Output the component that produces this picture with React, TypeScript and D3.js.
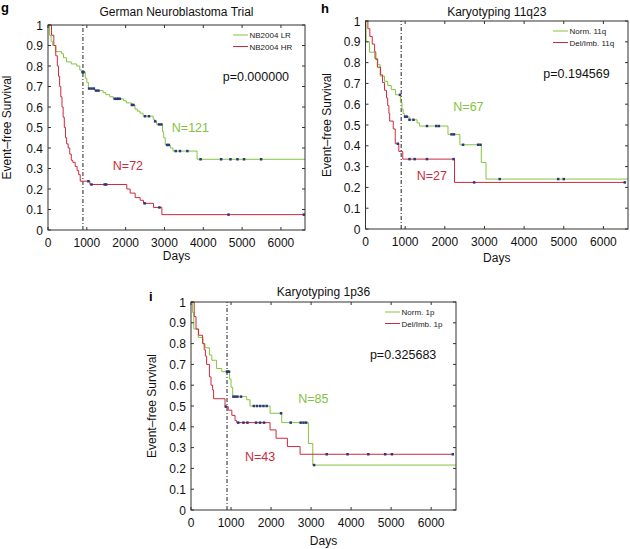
import React from 'react';
import * as d3 from 'd3';

// ---------- shared ----------
const MAX_DAY = 6620;
const X_TICKS = [0, 1000, 2000, 3000, 4000, 5000, 6000];
const Y_TICKS = [0, 0.1, 0.2, 0.3, 0.4, 0.5, 0.6, 0.7, 0.8, 0.9, 1];
const CUTOFF_DAY = 900;

const GREEN = '#85c341';
const RED = '#cc2a3e';
const CENSOR = '#2b3778';

// ---------- panel g: German Neuroblastoma Trial ----------
const gLrTimes = [0, 40, 80, 120, 200, 350, 400, 480, 600, 740, 820, 880, 960, 1000, 1040, 1200, 1420, 1490, 1590, 1680, 1940, 2020, 2150, 2240, 2300, 2370, 2450, 2710, 2750, 2800, 2950, 2980, 3020, 3150, 3220, 3840];
const gLrSurv = [1, 0.95, 0.92, 0.9, 0.87, 0.86, 0.84, 0.82, 0.81, 0.8, 0.78, 0.77, 0.74, 0.72, 0.69, 0.68, 0.67, 0.66, 0.65, 0.64, 0.63, 0.62, 0.61, 0.59, 0.58, 0.57, 0.555, 0.54, 0.53, 0.515, 0.48, 0.45, 0.415, 0.4, 0.385, 0.345];
const gLrCensor = [890, 915, 1060, 1120, 1180, 1240, 1300, 1720, 1770, 1810, 1850, 2160, 2200, 2500, 2600, 2760, 2860, 2920, 3070, 3110, 3290, 3400, 3590, 3930, 4460, 4700, 4880, 5050, 5490];
const gLrEnd = 6620;

const gHrTimes = [0, 90, 150, 200, 240, 270, 300, 330, 360, 390, 420, 450, 480, 520, 560, 600, 640, 700, 750, 790, 830, 1080, 2030, 2116, 2245, 2374, 2460, 2718, 2933];
const gHrSurv = [1, 0.95, 0.9, 0.85, 0.8, 0.75, 0.7, 0.65, 0.6, 0.55, 0.5, 0.45, 0.42, 0.4, 0.37, 0.34, 0.33, 0.31, 0.29, 0.27, 0.238, 0.222, 0.2, 0.18, 0.158, 0.145, 0.13, 0.11, 0.075];
const gHrCensor = [1040, 1120, 1460, 1500, 2490, 2870, 4650, 6590];
const gHrEnd = 6590;

// ---------- panel h: Karyotyping 11q23 ----------
const hNormTimes = [0, 15, 100, 230, 310, 370, 480, 560, 650, 760, 880, 920, 950, 980, 1100, 1300, 1364, 2080, 2380, 2920, 3040];
const hNormSurv = [1, 0.9, 0.85, 0.82, 0.79, 0.735, 0.71, 0.69, 0.67, 0.645, 0.61, 0.575, 0.555, 0.54, 0.525, 0.51, 0.495, 0.455, 0.405, 0.32, 0.24];
const hNormCensor = [870, 1000, 1040, 1110, 1210, 1550, 1785, 1850, 2170, 2230, 2460, 2840, 2900, 3385, 4860, 5000];
const hNormEnd = 6620;

const hDelTimes = [0, 60, 110, 170, 230, 260, 300, 380, 430, 480, 530, 560, 590, 610, 700, 750, 840, 940, 2245];
const hDelSurv = [1, 0.963, 0.926, 0.889, 0.852, 0.815, 0.778, 0.741, 0.704, 0.667, 0.63, 0.593, 0.556, 0.519, 0.481, 0.41, 0.373, 0.336, 0.224];
const hDelCensor = [816, 1110, 1240, 1550, 2220, 2740, 6540];
const hDelEnd = 6540;

// ---------- panel i: Karyotyping 1p36 ----------
const iNormTimes = [0, 40, 70, 180, 300, 350, 460, 520, 640, 770, 960, 1000, 1042, 1392, 1475, 1975, 2267, 2933, 3042];
const iNormSurv = [1, 0.95, 0.87, 0.83, 0.8, 0.78, 0.745, 0.72, 0.68, 0.665, 0.63, 0.59, 0.545, 0.53, 0.5, 0.465, 0.42, 0.32, 0.216];
const iNormCensor = [900, 920, 950, 1060, 1110, 1160, 1250, 1570, 1650, 1730, 1810, 1890, 2250, 2490, 2740, 2810, 2875, 3075];
const iNormEnd = 6620;

const iDelTimes = [0, 80, 125, 190, 290, 330, 360, 390, 460, 500, 540, 565, 850, 930, 1020, 1100, 1140, 1975, 2125, 2408, 2725];
const iDelSurv = [1, 0.93, 0.87, 0.84, 0.8, 0.77, 0.74, 0.7, 0.64, 0.6, 0.577, 0.535, 0.497, 0.48, 0.455, 0.43, 0.42, 0.385, 0.345, 0.305, 0.268];
const iDelCensor = [870, 1180, 1310, 1410, 1625, 1725, 1825, 3390, 3910, 4430, 4850, 5020, 6540];
const iDelEnd = 6540;

// ---------- helpers ----------
type Curve = { times: number[]; surv: number[]; censor: number[]; end: number; color: string };

function survAt(c: Curve, t: number) {
  let v = c.surv[0];
  for (let i = 0; i < c.times.length; i++) if (c.times[i] <= t) v = c.surv[i];
  return v;
}

type PanelProps = {
  box: { left: number; top: number; right: number; bottom: number };
  curves: Curve[];
  title: string;
  letter: string;
  letterPos: [number, number];
  legend: string[];
  legendLineX: number;
  pText: string;
  pPos: [number, number];
  nLabels: { text: string; t: number; s: number; color: string }[];
  yLabelX: number;
  titleY: number;
  daysY: number;
};

const FONT = 'Liberation Sans, Arial, Helvetica, sans-serif';

function Panel(p: PanelProps) {
  const { box } = p;
  const x = d3.scaleLinear().domain([0, MAX_DAY]).range([box.left, box.right]);
  const y = d3.scaleLinear().domain([0, 1]).range([box.bottom, box.top]);
  const line = d3
    .line<[number, number]>()
    .x((d) => x(d[0]))
    .y((d) => y(d[1]))
    .curve(d3.curveStepAfter);
  const midX = (box.left + box.right) / 2;
  const midY = (box.top + box.bottom) / 2;
  const axisColor = '#333';
  return (
    <g fontFamily={FONT}>
      <line x1={x(CUTOFF_DAY)} x2={x(CUTOFF_DAY)} y1={y(0)} y2={y(1)} stroke="#222" strokeWidth={1} strokeDasharray="4,2,1,2" />
      {p.curves.map((c, i) => {
        const pts: [number, number][] = c.times.map((t, k) => [t, c.surv[k]] as [number, number]);
        pts.push([c.end, c.surv[c.surv.length - 1]]);
        return <path key={'c' + i} d={line(pts) || ''} fill="none" stroke={c.color} strokeWidth={1} />;
      })}
      {p.curves.map((c, i) =>
        c.censor.map((t, k) => (
          <rect key={'m' + i + '_' + k} x={x(t) - 1.25} y={y(survAt(c, t)) - 1.25} width={2.5} height={2.5} fill={CENSOR} />
        ))
      )}
      <rect x={box.left} y={box.top} width={box.right - box.left} height={box.bottom - box.top} fill="none" stroke={axisColor} strokeWidth={1} />
      {X_TICKS.map((t) => (
        <g key={'xt' + t}>
          <line x1={x(t)} x2={x(t)} y1={box.bottom} y2={box.bottom - 3} stroke={axisColor} />
          <line x1={x(t)} x2={x(t)} y1={box.top} y2={box.top + 3} stroke={axisColor} />
          <text x={x(t)} y={box.bottom + 17} textAnchor="middle" fontSize={12} fill="#111">
            {t}
          </text>
        </g>
      ))}
      {Y_TICKS.map((v) => (
        <g key={'yt' + v}>
          <line x1={box.left} x2={box.left + 3} y1={y(v)} y2={y(v)} stroke={axisColor} />
          <line x1={box.right} x2={box.right - 3} y1={y(v)} y2={y(v)} stroke={axisColor} />
          <text x={box.left - 5} y={y(v) + 4.5} textAnchor="end" fontSize={12} fill="#111">
            {String(Math.round(v * 10) / 10)}
          </text>
        </g>
      ))}
      <text x={midX} y={p.titleY} textAnchor="middle" fontSize={12} fill="#111">
        {p.title}
      </text>
      <text x={midX} y={p.daysY} textAnchor="middle" fontSize={12} fill="#111">
        Days
      </text>
      <text transform={`translate(${p.yLabelX},${midY}) rotate(-90)`} textAnchor="middle" fontSize={12} fill="#111">
        Event–free Survival
      </text>
      <text x={p.letterPos[0]} y={p.letterPos[1]} fontSize={13} fontWeight="bold" fill="#000">
        {p.letter}
      </text>
      {p.legend.map((name, i) => (
        <g key={'lg' + i}>
          <line x1={p.legendLineX} x2={p.legendLineX + 15} y1={box.top + 10 + i * 11.5} y2={box.top + 10 + i * 11.5} stroke={p.curves[i].color} strokeWidth={1} />
          <text x={p.legendLineX + 16.5} y={box.top + 13 + i * 11.5} fontSize={8} fill="#222">
            {name}
          </text>
        </g>
      ))}
      <text x={x(p.pPos[0])} y={y(p.pPos[1]) + 4.5} fontSize={12.5} fill="#111">
        {p.pText}
      </text>
      {p.nLabels.map((n, i) => (
        <text key={'n' + i} x={x(n.t)} y={y(n.s) + 4.5} fontSize={12.5} fill={n.color}>
          {n.text}
        </text>
      ))}
    </g>
  );
}

export default function App() {
  return (
    <svg width={630} height={549} style={{ position: 'absolute', left: 0, top: 0, background: '#fff' }}>
      <rect x={0} y={0} width={630} height={549} fill="#fff" />
      <Panel
        box={{ left: 48, top: 25, right: 305, bottom: 230 }}
        curves={[
          { times: gLrTimes, surv: gLrSurv, censor: gLrCensor, end: gLrEnd, color: GREEN },
          { times: gHrTimes, surv: gHrSurv, censor: gHrCensor, end: gHrEnd, color: RED },
        ]}
        title="German Neuroblastoma Trial"
        letter="g"
        letterPos={[1, 12]}
        legend={['NB2004 LR', 'NB2004 HR']}
        legendLineX={233}
        pText="p=0.000000"
        pPos={[4500, 0.75]}
        nLabels={[
          { text: 'N=121', t: 3190, s: 0.5, color: GREEN },
          { text: 'N=72', t: 1670, s: 0.315, color: RED },
        ]}
        yLabelX={11}
        titleY={16}
        daysY={260}
      />
      <Panel
        box={{ left: 365.5, top: 21, right: 628, bottom: 229 }}
        curves={[
          { times: hNormTimes, surv: hNormSurv, censor: hNormCensor, end: hNormEnd, color: GREEN },
          { times: hDelTimes, surv: hDelSurv, censor: hDelCensor, end: hDelEnd, color: RED },
        ]}
        title="Karyotyping 11q23"
        letter="h"
        letterPos={[321, 12.5]}
        legend={['Norm. 11q', 'Del/Imb. 11q']}
        legendLineX={553}
        pText="p=0.194569"
        pPos={[4485, 0.75]}
        nLabels={[
          { text: 'N=67', t: 2215, s: 0.59, color: GREEN },
          { text: 'N=27', t: 1290, s: 0.256, color: RED },
        ]}
        yLabelX={331}
        titleY={16}
        daysY={262}
      />
      <Panel
        box={{ left: 191, top: 302, right: 456, bottom: 510 }}
        curves={[
          { times: iNormTimes, surv: iNormSurv, censor: iNormCensor, end: iNormEnd, color: GREEN },
          { times: iDelTimes, surv: iDelSurv, censor: iDelCensor, end: iDelEnd, color: RED },
        ]}
        title="Karyotyping 1p36"
        letter="i"
        letterPos={[149, 301]}
        legend={['Norm. 1p', 'Del/Imb. 1p']}
        legendLineX={385}
        pText="p=0.325683"
        pPos={[4470, 0.75]}
        nLabels={[
          { text: 'N=85', t: 2680, s: 0.537, color: GREEN },
          { text: 'N=43', t: 1350, s: 0.256, color: RED },
        ]}
        yLabelX={156}
        titleY={296}
        daysY={545}
      />
    </svg>
  );
}
